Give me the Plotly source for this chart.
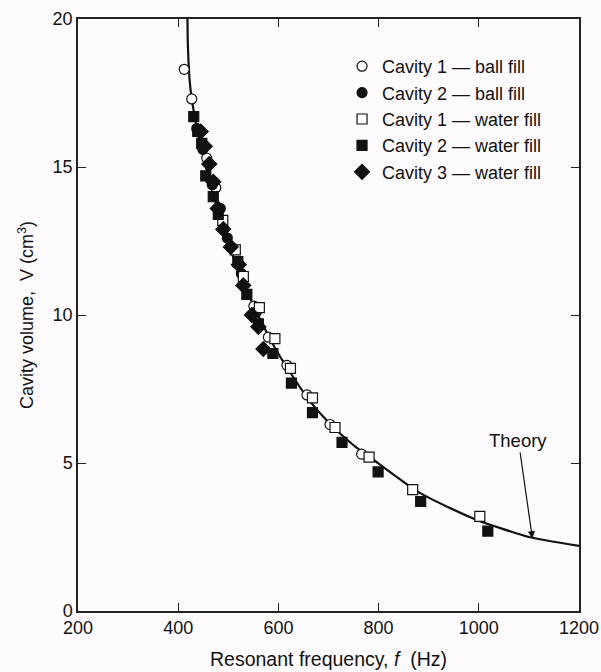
import plotly.graph_objects as go

# ---- data ----
theory_f = [418.5, 419, 420.5, 423, 427, 440, 460, 480, 500, 540, 580, 600, 620,
            660, 700, 750, 800, 870, 900, 940, 1000, 1100, 1200]
theory_v = [20.0, 19.3, 18.6, 17.9, 17.3, 16.1, 14.7, 13.5, 12.4, 10.7, 9.3, 8.69, 8.15,
            7.15, 6.38, 5.6, 4.98, 4.12, 3.83, 3.5, 3.05, 2.5, 2.2]

c1_ball_f = [412, 427, 457, 475, 504, 551, 580, 617, 657, 703, 766]
c1_ball_v = [18.3, 17.3, 15.3, 14.3, 12.3, 10.3, 9.25, 8.3, 7.3, 6.3, 5.3]

c2_ball_f = [437, 449, 468, 484, 498, 526, 556]
c2_ball_v = [16.3, 15.6, 14.4, 13.6, 12.6, 11.4, 10.1]

c1_water_f = [489, 514, 530, 562, 593, 624, 668, 713, 781, 868, 1002]
c1_water_v = [13.2, 12.2, 11.3, 10.25, 9.2, 8.2, 7.2, 6.2, 5.2, 4.1, 3.2]

c2_water_f = [431, 439, 447, 455, 470, 480, 519, 537, 560, 589, 626, 668, 727, 799, 884, 1018]
c2_water_v = [16.7, 16.2, 15.8, 14.7, 14.0, 13.4, 11.8, 10.7, 9.7, 8.7, 7.7, 6.7, 5.7, 4.7, 3.7, 2.7]

c3_water_f = [445, 453, 462, 470, 479, 490, 505, 521, 530, 547, 560, 570]
c3_water_v = [16.2, 15.7, 15.1, 14.5, 13.6, 12.9, 12.3, 11.7, 11.0, 10.0, 9.6, 8.85]

x_ticks = [200, 400, 600, 800, 1000, 1200]
y_ticks = [0, 5, 10, 15, 20]

FONT = "Liberation Sans, Arial, sans-serif"
INK = "#111111"
BG = "#fdfbfd"

fig = go.Figure()
fig.add_trace(go.Scatter(x=theory_f, y=theory_v, mode="lines",
                         line=dict(color=INK, width=2.2, shape="spline", smoothing=0.5),
                         showlegend=False, hoverinfo="skip"))

def add_pts(xs, ys, name, symbol, filled):
    fig.add_trace(go.Scatter(
        x=xs, y=ys, mode="markers", name=name,
        marker=dict(symbol=symbol, size=10 if symbol != "diamond" else 11.5,
                    color=INK if filled else "white",
                    line=dict(color=INK, width=1.2))))

add_pts(c1_ball_f, c1_ball_v, "Cavity 1 — ball fill", "circle", False)
add_pts(c2_ball_f, c2_ball_v, "Cavity 2 — ball fill", "circle", True)
add_pts(c1_water_f, c1_water_v, "Cavity 1 — water fill", "square", False)
add_pts(c2_water_f, c2_water_v, "Cavity 2 — water fill", "square", True)
add_pts(c3_water_f, c3_water_v, "Cavity 3 — water fill", "diamond", True)

axis_common = dict(showline=True, linecolor="#222", linewidth=1.5, mirror="ticks",
                   ticks="inside", ticklen=8, tickwidth=1.3, tickcolor="#222",
                   showgrid=False, zeroline=False, automargin=False,
                   tickfont=dict(family=FONT, size=18, color=INK))

fig.update_xaxes(range=[200, 1200], tickvals=x_ticks, ticktext=[str(v) for v in x_ticks],
                 title_text="Resonant frequency, <i>f</i>  (Hz)", title_standoff=15,
                 title_font=dict(family=FONT, size=19.5, color=INK), **axis_common)
fig.update_yaxes(range=[0, 20], tickvals=y_ticks, ticktext=[str(v) for v in y_ticks],
                 title_text="Cavity volume,  V (cm<sup>3</sup>)", title_standoff=14,
                 title_font=dict(family=FONT, size=18, color=INK), **axis_common)

fig.add_annotation(x=1107, y=2.45, xref="x", yref="y", text="Theory", showarrow=True,
                   ax=-14, ay=-98, arrowhead=2, arrowsize=1.2, arrowwidth=1.2, arrowcolor=INK,
                   font=dict(family=FONT, size=18.5, color=INK))

fig.update_layout(
    width=601, height=672,
    margin=dict(l=78, r=22, t=19, b=61),
    paper_bgcolor=BG, plot_bgcolor=BG,
    font=dict(family=FONT, color=INK),
    legend=dict(x=0.527, y=0.951, xanchor="left", yanchor="top", bgcolor="rgba(0,0,0,0)",
                font=dict(family=FONT, size=18, color=INK), itemwidth=30, tracegroupgap=0),
)

fig.write_html("out.html", config={"displayModeBar": False},
               post_script="document.body.style.margin='0';")
